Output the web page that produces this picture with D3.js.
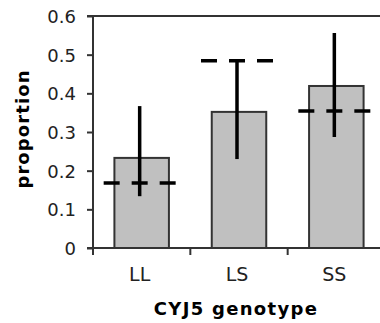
<!DOCTYPE html>
<html><head><meta charset="utf-8">
<script src="https://cdn.jsdelivr.net/npm/d3@7"></script>
<style>body{margin:0;background:#fff}svg{display:block}</style>
</head><body><svg id="c" width="380" height="323"></svg>
<script>
const categories = ["LL", "LS", "SS"];
const barValues = [0.233, 0.352, 0.419];
const errHigh = [0.367, 0.484, 0.556];
const errLow = [0.134, 0.230, 0.287];
const dashValues = [0.168, 0.484, 0.354];
const yTicks = [0, 0.1, 0.2, 0.3, 0.4, 0.5, 0.6];
const yTitle = "proportion";
const xTitle = "CYJ5 genotype";

const svg = d3.select("#c");
const L = 93, R = 385, T = 16, B = 248;
const x = d3.scaleBand().domain(categories).range([L, R]).paddingInner(0.44).paddingOuter(0.22);
const y = d3.scaleLinear().domain([0, 0.6]).range([B, T]);
const font = "'DejaVu Sans', sans-serif";

// top frame line
svg.append("line").attr("x1", L).attr("x2", R).attr("y1", T).attr("y2", T)
  .attr("stroke", "#333").attr("stroke-width", 2);

// bars
const data = categories.map((c, i) => ({c, v: barValues[i], hi: errHigh[i], lo: errLow[i], d: dashValues[i]}));
svg.selectAll("rect.bar").data(data).join("rect").attr("class", "bar")
  .attr("x", d => x(d.c)).attr("width", x.bandwidth())
  .attr("y", d => y(d.v)).attr("height", d => y(0) - y(d.v))
  .attr("fill", "#c0c0c0").attr("stroke", "#333").attr("stroke-width", 2);

const cx = d => x(d.c) + x.bandwidth() / 2 - 2;

// error bars
svg.selectAll("line.err").data(data).join("line").attr("class", "err")
  .attr("x1", cx).attr("x2", cx).attr("y1", d => y(d.hi)).attr("y2", d => y(d.lo))
  .attr("stroke", "#000").attr("stroke-width", 3.5);

// dashed reference lines
svg.selectAll("line.dash").data(data).join("line").attr("class", "dash")
  .attr("x1", d => cx(d) - 36).attr("x2", d => cx(d) + 36)
  .attr("y1", d => y(d.d)).attr("y2", d => y(d.d))
  .attr("stroke", "#000").attr("stroke-width", 3.5).attr("stroke-dasharray", "16,12");

// y axis
const ya = svg.append("g").attr("transform", `translate(${L},0)`)
  .call(d3.axisLeft(y).tickValues(yTicks).tickSize(6).tickPadding(11).tickFormat(d => d3.format("")(+d.toFixed(1))));
ya.select(".domain").attr("stroke", "#333").attr("stroke-width", 2).attr("d", `M-6,${T}H0V${B}`);
ya.selectAll(".tick line").attr("stroke", "#333").attr("stroke-width", 2);
ya.selectAll(".tick text").attr("font-family", font).attr("font-size", 18).attr("fill", "#222").attr("dy", "0.36em");

// x axis
const xa = svg.append("g").attr("transform", `translate(0,${B})`)
  .call(d3.axisBottom(x).tickSize(0).tickPadding(20));
xa.select(".domain").attr("stroke", "#333").attr("stroke-width", 2).attr("d", `M${L - 6},0H${R}`);
xa.selectAll(".tick text").attr("font-family", font).attr("font-size", 19).attr("fill", "#222")
  .attr("dy", "0.71em").attr("dx", -2);
const bounds = [L].concat(categories.map(c => x(c) + x.bandwidth() + x.step() * x.paddingInner() / 2));
xa.selectAll("line.xt").data(bounds).join("line").attr("class", "xt")
  .attr("x1", d => d).attr("x2", d => d).attr("y1", 0).attr("y2", 7)
  .attr("stroke", "#333").attr("stroke-width", 2);

// titles
svg.append("text").attr("transform", "translate(29,129) rotate(-90)")
  .attr("text-anchor", "middle").attr("font-family", font).attr("font-weight", "bold")
  .attr("font-size", 18).attr("letter-spacing", 1.1).attr("fill", "#000").text(yTitle);
svg.append("text").attr("x", 236).attr("y", 315)
  .attr("text-anchor", "middle").attr("font-family", font).attr("font-weight", "bold")
  .attr("font-size", 18).attr("letter-spacing", 1.3).attr("fill", "#000").text(xTitle);
</script></body></html>
